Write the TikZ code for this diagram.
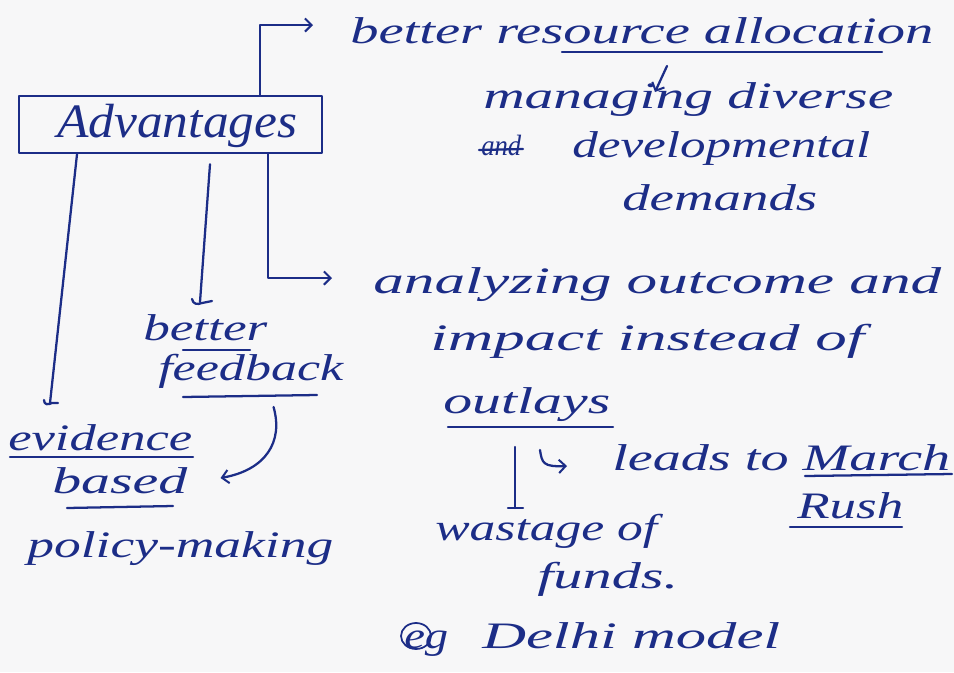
\documentclass[tikz,border=0pt]{standalone}
\usepackage{fontspec}
\usepackage{graphicx}
\setmainfont{Liberation Serif}
\usetikzlibrary{calc,arrows.meta}

\definecolor{ink}{RGB}{28,45,135}
\definecolor{paper}{RGB}{247,247,248}

% one pixel of the sheet
\newdimen\pxu \pxu=0.75pt
% handwritten word: stretched to a given width, natural height kept
\newcommand\hw[2]{\resizebox{#1\pxu}{\height}{#2}}

\tikzset{
  word/.style={anchor=base west, inner sep=0pt, text=ink,
               font=\fontsize{28}{32}\selectfont\itshape},
  pen/.style={draw=ink, line width=1.7pt, line cap=round, line join=round},
  tip/.style={-{Straight Barb[length=5pt,width=10pt,line width=1.5pt]}},
  boxed/.style={pen, anchor=north west, inner sep=0pt,
                minimum width=227.25pt, minimum height=42.75pt}
}

\begin{document}
\begin{tikzpicture}[x=0.75pt,y=-0.75pt]
  \fill[paper] (0,0) rectangle (954,672);
  \useasboundingbox (0,0) rectangle (954,672);

  % central box
  \node[boxed] (adv) at (18,95) {};
  \node[word, font=\fontsize{36}{40}\selectfont\itshape] (advtext) at (57,137) {\hw{240}{Advantages}};

  % upper branch: resource allocation
  \node[word] (res) at (350,43) {\hw{583}{better resource allocation}};
  \node[word] (man) at (483,108) {\hw{410}{managing diverse}};
  \node[word, font=\fontsize{22}{26}\selectfont\itshape] (and) at (481,155) {\hw{40}{and}};
  \node[word] (dev) at (572,157) {\hw{298}{developmental}};
  \node[word] (dem) at (622,210) {\hw{195}{demands}};

  % right branch: outcomes
  \node[word] (ana) at (373,293) {\hw{568}{analyzing outcome and}};
  \node[word] (imp) at (430,350) {\hw{434}{impact instead of}};
  \node[word] (out) at (443,413) {\hw{167}{outlays}};
  \node[word] (lea) at (612,470) {\hw{338}{leads to March}};
  \node[word] (rus) at (797,518) {\hw{106}{Rush}};
  \node[word] (was) at (435,540) {\hw{222}{wastage of}};
  \node[word] (fun) at (537,588) {\hw{141}{funds.}};
  \node[word] (eg)  at (404,648) {\hw{44}{eg}};
  \node[word] (del) at (482,648) {\hw{298}{Delhi model}};

  % middle branch: feedback
  \node[word] (bet) at (143,340) {\hw{124}{better}};
  \node[word] (fee) at (158,380) {\hw{185}{feedback}};

  % left branch: policy making
  \node[word] (evi) at (8,450) {\hw{184}{evidence}};
  \node[word] (bas) at (52,493) {\hw{135}{based}};
  \node[word] (pol) at (27,557) {\hw{306}{policy-making}};

  % connectors out of the box
  \draw[pen, tip] ($(adv.north west)+(242,0)$) |- ($(res.base west)+(-37,-18)$);
  \draw[pen, tip] ($(adv.south west)+(250,0)$) |- ($(ana.base west)+(-41,-15)$);
  \draw[pen] ($(adv.south west)+(192,10)$) -- coordinate[pos=1] (fb) ($(bet.base west)+(57,-38)$);
  \draw[pen] ($(fb)+(-8,-3)$) .. controls ($(fb)+(-7,2)$) and ($(fb)+(-3,3)$) .. ($(fb)+(2,1)$) -- ($(fb)+(12,-1)$);
  \draw[pen] ($(adv.south west)+(59,0)$) -- coordinate[pos=1] (ev) ($(evi.base west)+(42,-47)$);
  \draw[pen] ($(ev)+(-6,-3)$) .. controls ($(ev)+(-6,2)$) and ($(ev)+(-2,2)$) .. ($(ev)+(2,0)$) -- ($(ev)+(8,0)$);

  % feedback leads to evidence based policy
  \draw[pen, tip] ($(fee.base east)+(-70,27)$)
    .. controls ($(fee.base east)+(-60,62)$) and ($(fee.base east)+(-78,90)$)
    .. ($(bas.base east)+(33,-15)$);

  % allocation leads to managing demands
  \draw[pen, tip] ($(res.base west)+(317,23)$) -- ($(man.base west)+(172,-16)$);

  % outlays: bar down to wastage, hooked arrow to March rush
  \draw[pen] ($(out.base west)+(72,34)$) -- coordinate[pos=1] (wb) ($(was.base west)+(80,-32)$);
  \draw[pen] ($(wb)+(-7,0)$) -- ($(wb)+(8,0)$);
  \draw[pen, tip] ($(out.base west)+(97,37)$) .. controls ($(out.base west)+(99,50)$) and ($(out.base west)+(100,54)$) .. ($(lea.base west)+(-45,-4)$);

  % underlines and strike-out
  \draw[pen] ($(res.base west)+(212,9)$) -- ($(res.base west)+(532,9)$);
  \draw[pen] ($(and.base west)+(-2,-5)$) -- ($(and.base west)+(42,-6)$);
  \draw[pen] ($(out.base west)+(5,14)$) -- ($(out.base west)+(170,14)$);
  \draw[pen] ($(lea.base west)+(193,6)$) -- ($(lea.base west)+(340,4)$);
  \draw[pen] ($(rus.base west)+(-7,9)$) -- ($(rus.base west)+(105,9)$);
  \draw[pen] ($(bet.base west)+(40,10)$) -- ($(bet.base west)+(107,10)$);
  \draw[pen] ($(fee.base west)+(25,17)$) -- ($(fee.base west)+(159,15)$);
  \draw[pen] ($(evi.base west)+(2,7)$) -- ($(evi.base west)+(185,7)$);
  \draw[pen] ($(bas.base west)+(15,15)$) -- ($(bas.base west)+(121,13)$);

  % ring round the e of "eg"
  \draw[pen, line width=1.3pt] ($(eg.base west)+(12,-12)$) ellipse [x radius=15, y radius=13];
\end{tikzpicture}
\end{document}
